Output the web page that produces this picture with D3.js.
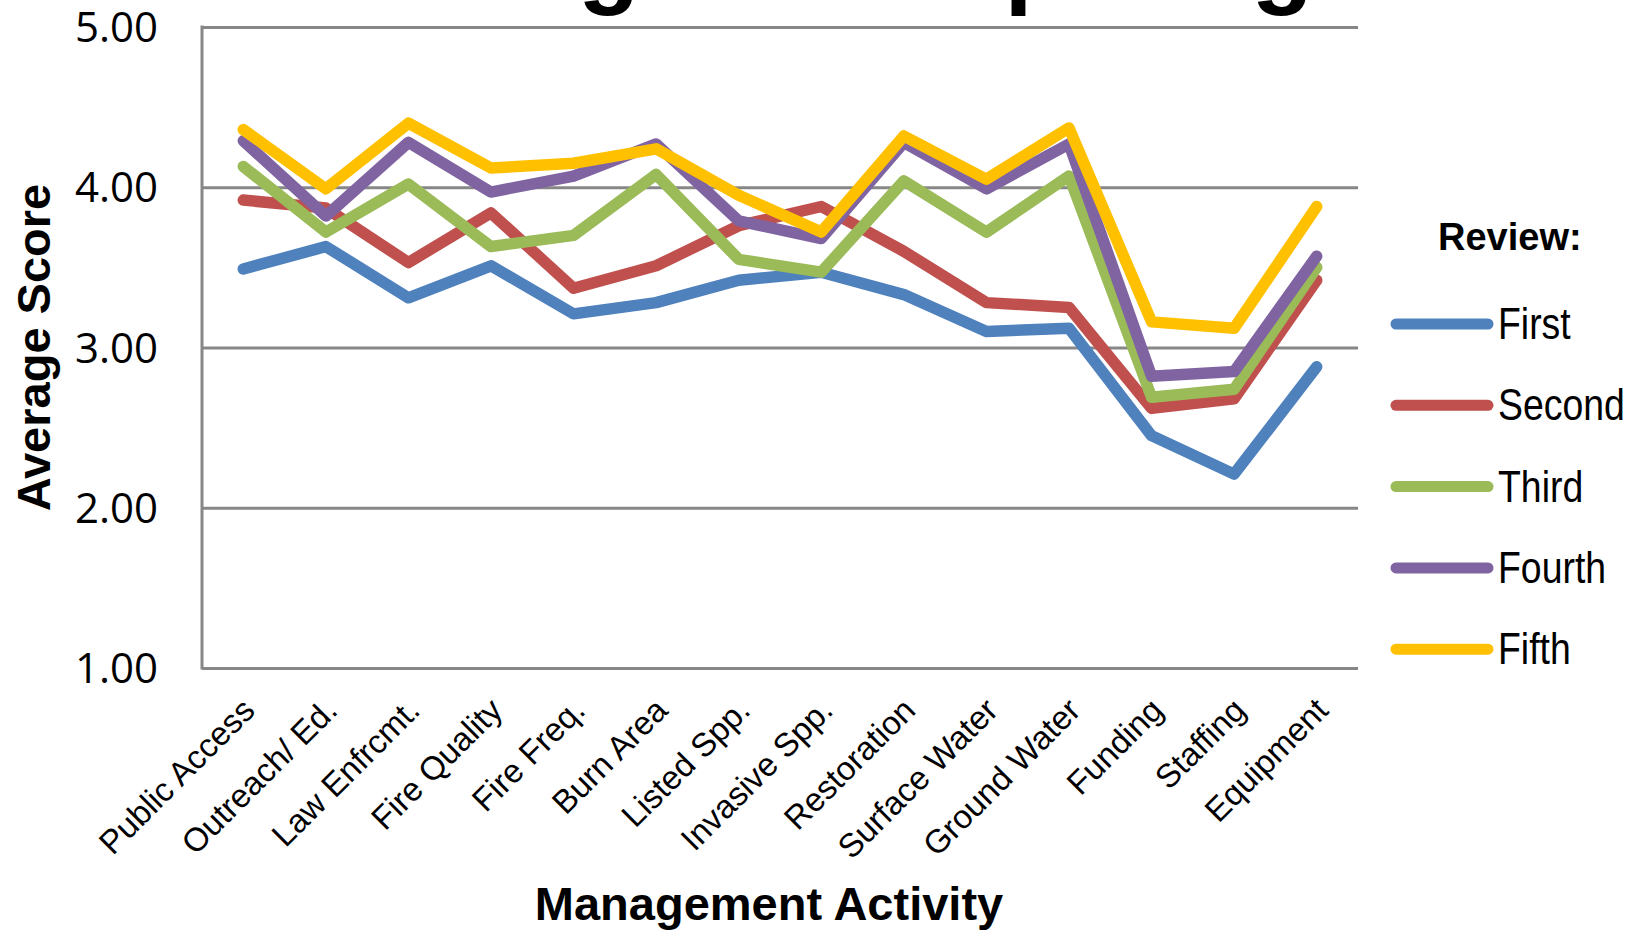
<!DOCTYPE html>
<html>
<head>
<meta charset="utf-8">
<script src="https://cdn.jsdelivr.net/npm/d3@7"></script>
<style>
  html, body { margin: 0; padding: 0; background: #fff; overflow: hidden; }
  svg { display: block; }
</style>
</head>
<body>
<div class="chart"></div>
<script>
// categories on the x axis
var categories = ["Public Access", "Outreach/ Ed.", "Law Enfrcmt.", "Fire Quality", "Fire Freq.",
  "Burn Area", "Listed Spp.", "Invasive Spp.", "Restoration", "Surface Water", "Ground Water",
  "Funding", "Staffing", "Equipment"];

// average score per review
var first  = [3.49, 3.63, 3.31, 3.51, 3.21, 3.28, 3.42, 3.47, 3.33, 3.10, 3.12, 2.45, 2.21, 2.88];
var second = [3.92, 3.87, 3.53, 3.84, 3.37, 3.51, 3.76, 3.88, 3.60, 3.28, 3.25, 2.62, 2.68, 3.42];
var third  = [4.13, 3.72, 4.02, 3.63, 3.70, 4.08, 3.55, 3.47, 4.04, 3.72, 4.07, 2.69, 2.74, 3.50];
var fourth = [4.29, 3.82, 4.28, 3.97, 4.07, 4.27, 3.79, 3.68, 4.28, 3.99, 4.27, 2.82, 2.85, 3.57];
var fifth  = [4.36, 3.99, 4.40, 4.12, 4.15, 4.24, 3.95, 3.72, 4.32, 4.05, 4.37, 3.16, 3.12, 3.88];

var seriesNames = ["First", "Second", "Third", "Fourth", "Fifth"];
var seriesValues = [first, second, third, fourth, fifth];
var seriesColors = ["#4f81bd", "#c0504d", "#9bbb59", "#8064a2", "#ffc000"];
var yTicks = [1, 2, 3, 4, 5];

var W = 1641, H = 932;
var plot = {left: 202, right: 1358, top: 27, bottom: 668};

var svg = d3.select(".chart").append("svg")
    .attr("width", W)
    .attr("height", H);

var x = d3.scaleBand().domain(categories).range([plot.left, plot.right]);
var y = d3.scaleLinear().domain([1, 5]).range([plot.bottom, plot.top]);
var cx = function(c) { return x(c) + x.bandwidth() / 2; };

// title, mostly cut off by the top edge
svg.append("text")
    .attr("x", 301)
    .attr("y", -5)
    .style("font-family", "'Liberation Sans', Arial, sans-serif")
    .style("font-weight", "bold")
    .style("font-size", "101px")
    .text("Averages Comparing");

// gridlines
var yAxis = d3.axisLeft(y).tickValues(yTicks).tickSize(-(plot.right - plot.left)).tickFormat(d3.format(".2f")).tickPadding(44);
var gy = svg.append("g")
    .attr("transform", "translate(" + plot.left + ",0)")
    .call(yAxis);
gy.select(".domain").remove();
gy.selectAll(".tick line")
    .attr("stroke", "#878787")
    .attr("stroke-width", 3);
gy.selectAll(".tick text")
    .attr("fill", "#000")
    .attr("dy", "0.35em")
    .style("font-family", "'Open Sans', sans-serif")
    .style("font-size", "42px");

// left axis line
svg.append("line")
    .attr("x1", plot.left).attr("x2", plot.left)
    .attr("y1", y(5) - 1.5).attr("y2", y(1) + 1.5)
    .attr("stroke", "#878787")
    .attr("stroke-width", 3);

// category labels
svg.append("g").selectAll("text")
    .data(categories)
    .enter().append("text")
      .attr("transform", function(d) { return "translate(" + (cx(d) - 3) + "," + (plot.bottom + 28) + ") rotate(-45)"; })
      .attr("text-anchor", "end")
      .attr("dy", "0.7em")
      .style("font-family", "'Liberation Sans', Arial, sans-serif")
      .style("font-size", "33px")
      .text(function(d) { return d; });

// lines
var line = d3.line()
    .x(function(d, i) { return cx(categories[i]); })
    .y(function(d) { return y(d); });

svg.append("g").selectAll("path")
    .data(seriesValues)
    .enter().append("path")
      .attr("d", line)
      .attr("fill", "none")
      .attr("stroke", function(d, i) { return seriesColors[i]; })
      .attr("stroke-width", 11.5)
      .attr("stroke-linejoin", "round")
      .attr("stroke-linecap", "round");

// axis titles
svg.append("text")
    .attr("transform", "translate(50," + ((plot.top + plot.bottom) / 2) + ") rotate(-90)")
    .attr("text-anchor", "middle")
    .style("font-family", "'Liberation Sans', Arial, sans-serif")
    .style("font-weight", "bold")
    .style("font-size", "47px")
    .text("Average Score");

svg.append("text")
    .attr("x", 769)
    .attr("y", 920)
    .attr("text-anchor", "middle")
    .style("font-family", "'Liberation Sans', Arial, sans-serif")
    .style("font-weight", "bold")
    .style("font-size", "47px")
    .text("Management Activity");

// legend
var legend = svg.append("g");
legend.append("text")
    .attr("x", 1438)
    .attr("y", 250)
    .style("font-family", "'Liberation Sans', Arial, sans-serif")
    .style("font-weight", "bold")
    .style("font-size", "38px")
    .text("Review:");

var item = legend.selectAll("g.item")
    .data(seriesNames)
    .enter().append("g")
      .attr("class", "item")
      .attr("transform", function(d, i) { return "translate(0," + (324 + i * 81.3) + ")"; });

item.append("line")
    .attr("x1", 1396).attr("x2", 1488)
    .attr("stroke", function(d, i) { return seriesColors[i]; })
    .attr("stroke-width", 11)
    .attr("stroke-linecap", "round");

item.append("text")
    .attr("transform", "translate(1498,15) scale(0.85,1)")
    .style("font-family", "'Liberation Sans', Arial, sans-serif")
    .style("font-size", "44px")
    .text(function(d) { return d; });
</script>
</body>
</html>
